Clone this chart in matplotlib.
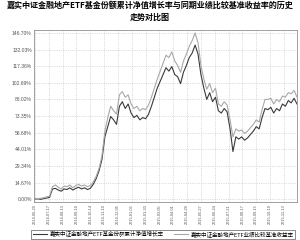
import numpy as np
import matplotlib
matplotlib.use("Agg")
import matplotlib.pyplot as plt

plt.rcParams['font.family'] = ['Noto Sans CJK SC', 'DejaVu Sans']

# ---- data ----
title = "嘉实中证金融地产ETF基金份额累计净值增长率与同期业绩比较基准收益率的历史\n走势对比图"
nav_label = "嘉实中证金融地产ETF基金份额累计净值增长率"
bench_label = "嘉实中证金融地产ETF业绩比较基准收益率"

tick_dates = ["2014-06-20", "2014-07-17", "2014-08-13", "2014-09-10", "2014-10-14",
              "2014-11-10", "2014-12-05", "2015-01-05", "2015-01-30", "2015-03-05",
              "2015-04-01", "2015-04-29", "2015-05-27", "2015-06-24", "2015-07-21",
              "2015-08-17", "2015-09-15", "2015-10-19", "2015-11-13"]
y_ticks = [0.00, 14.67, 29.34, 44.01, 58.68, 73.35, 88.02, 102.69, 117.36, 132.03, 146.70]

# sampled every 4 trading days
nav = [0.0, 0.3, -0.2, 0.5, 1.0, 1.5, 9.0, 9.5, 8.0, 7.0,
       9.0, 8.5, 10.0, 8.0, 9.5, 10.5, 9.0, 10.0, 8.5, 9.5,
       13.0, 18.0, 25.0, 35.0, 55.0, 64.0, 73.0, 70.0, 66.0, 82.0,
       86.0, 80.0, 84.0, 76.0, 72.0, 74.0, 70.0, 72.0, 71.0, 75.0,
       82.0, 90.0, 98.0, 104.0, 110.0, 116.0, 113.0, 117.0, 110.0, 108.0,
       102.0, 112.0, 118.0, 125.0, 129.0, 136.0, 128.0, 110.0, 98.0, 88.0,
       94.0, 86.0, 90.0, 78.0, 76.0, 80.0, 77.0, 62.0, 42.0, 55.0,
       53.0, 55.0, 52.0, 54.0, 57.0, 60.0, 64.0, 62.0, 72.0, 80.0,
       79.0, 81.0, 76.0, 80.0, 78.0, 84.0, 82.0, 87.0, 85.0, 89.0,
       84.0]
bench = [0.0, 0.5, 0.8, 1.2, 2.0, 2.5, 11.0, 12.5, 10.5, 9.0,
         11.5, 11.0, 12.5, 10.0, 12.0, 13.0, 11.5, 12.5, 11.0, 12.0,
         15.0, 20.0, 27.0, 38.0, 60.0, 72.0, 82.0, 78.0, 75.0, 92.0,
         95.0, 90.0, 92.0, 84.0, 80.0, 82.0, 78.0, 80.0, 79.0, 83.0,
         90.0, 98.0, 106.0, 113.0, 120.0, 127.0, 125.0, 130.0, 122.0, 118.0,
         112.0, 122.0, 128.0, 135.0, 140.0, 146.7, 138.0, 118.0, 106.0, 97.0,
         102.0, 94.0, 98.0, 84.0, 82.0, 86.0, 83.0, 70.0, 55.0, 62.0,
         60.0, 61.0, 58.0, 60.0, 63.0, 66.0, 70.0, 68.0, 79.0, 88.0,
         88.0, 89.0, 84.0, 88.0, 86.0, 91.0, 90.0, 94.0, 93.0, 96.0,
         90.0]

days = np.arange(len(nav)) * 4
tick_pos = np.arange(len(tick_dates)) * 19

fig = plt.figure(figsize=(3.0, 2.4), dpi=100)
ax = fig.add_axes([0.113, 0.158, 0.877, 0.717])

ax.plot(days, nav, color="#3a3a3a", lw=0.8, label=nav_label)
ax.plot(days, bench, color="#a8a8a8", lw=0.8, label=bench_label)

ax.set_xlim(-1.5, 360)
ax.set_ylim(-2.6, 149.3)
ax.set_yticks(y_ticks)
ax.set_yticklabels([f"{v:.2f}%" for v in y_ticks], family="Liberation Sans",
                   fontsize=3.6, color="#555555")
ax.set_xticks(tick_pos)
ax.set_xticklabels(tick_dates, rotation=90, family="Liberation Sans",
                   fontsize=2.8, color="#555555")
ax.tick_params(length=0, pad=1.5)
ax.grid(True, color="#c0c0c0", ls=(0, (2, 2)), lw=0.4)
for s in ax.spines.values():
    s.set_color("#909090")
    s.set_linewidth(0.6)

fig.suptitle(title, fontsize=5.8, fontweight="bold", y=0.995, linespacing=1.35)

leg = fig.legend(loc="lower left", bbox_to_anchor=(0.095, -0.006), ncol=2,
                 fontsize=4.0, frameon=True, fancybox=False, handlelength=2.6,
                 handletextpad=0.5, columnspacing=1.8, borderpad=0.22)
leg.get_frame().set_edgecolor("#333333")
leg.get_frame().set_linewidth(0.5)

fig.savefig("out.png", dpi=100)
